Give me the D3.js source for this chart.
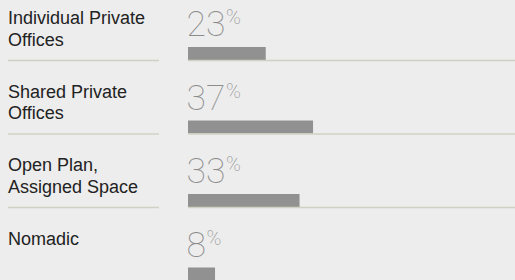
<!DOCTYPE html>
<html><head><meta charset="utf-8">
<script src="https://cdn.jsdelivr.net/npm/d3@7"></script>
<style>
html,body{margin:0;padding:0;background:#ededed;}
svg{display:block;}
</style></head>
<body>
<svg id="chart" width="515" height="280"></svg>
<script>
const categories = [["Individual Private","Offices"],["Shared Private","Offices"],["Open Plan,","Assigned Space"],["Nomadic"]];
const values = [23, 37, 33, 8];
const pctLabels = ["23","37","33","8"];

const W = 515, H = 280;
const svg = d3.select("#chart");
svg.append("rect").attr("width",W).attr("height",H).attr("fill","#ededed");

const y = d3.scaleBand().domain(d3.range(values.length)).range([-13.5, 280.5]).padding(0);
const x = d3.scaleLinear().domain([0,100]).range([188, 526]);

const rows = svg.selectAll("g.row").data(values).join("g").attr("class","row")
  .attr("transform",(d,i)=>`translate(0,${y(i)+y.bandwidth()})`);

// labels
rows.append("text")
  .attr("x",8).attr("y",-36)
  .attr("font-family","'Liberation Sans', Arial, Helvetica, sans-serif")
  .attr("font-size",18).attr("fill","#222")
  .each(function(d,i){
    const t = d3.select(this);
    categories[i].forEach((line,j)=>{
      t.append("tspan").attr("x",8).attr("dy", j===0?0:21.5).text(line);
    });
  });

// bars
rows.append("rect")
  .attr("x",x(0)).attr("y",-13)
  .attr("width",d=>x(d)-x(0)).attr("height",13)
  .attr("fill","#919191");

// separators
rows.append("line").attr("x1",8).attr("x2",159).attr("y1",0.5).attr("y2",0.5)
  .attr("stroke","#d0d0c4").attr("stroke-width",1.5);
rows.append("line").attr("x1",188).attr("x2",W).attr("y1",0.5).attr("y2",0.5)
  .attr("stroke","#d0d0c4").attr("stroke-width",1.5);

// percentages
const pt = rows.append("text")
  .attr("x",x(0)-1.5).attr("y",-24)
  .attr("font-family","Roboto, 'Open Sans', sans-serif")
  .attr("font-weight",100)
  .attr("fill","#8c8c8c");
pt.append("tspan").attr("font-size",35.5).text((d,i)=>pctLabels[i]);
pt.append("tspan").attr("font-size",20).attr("dy",-12).attr("dx",0.5).text("%");
</script>
</body></html>
